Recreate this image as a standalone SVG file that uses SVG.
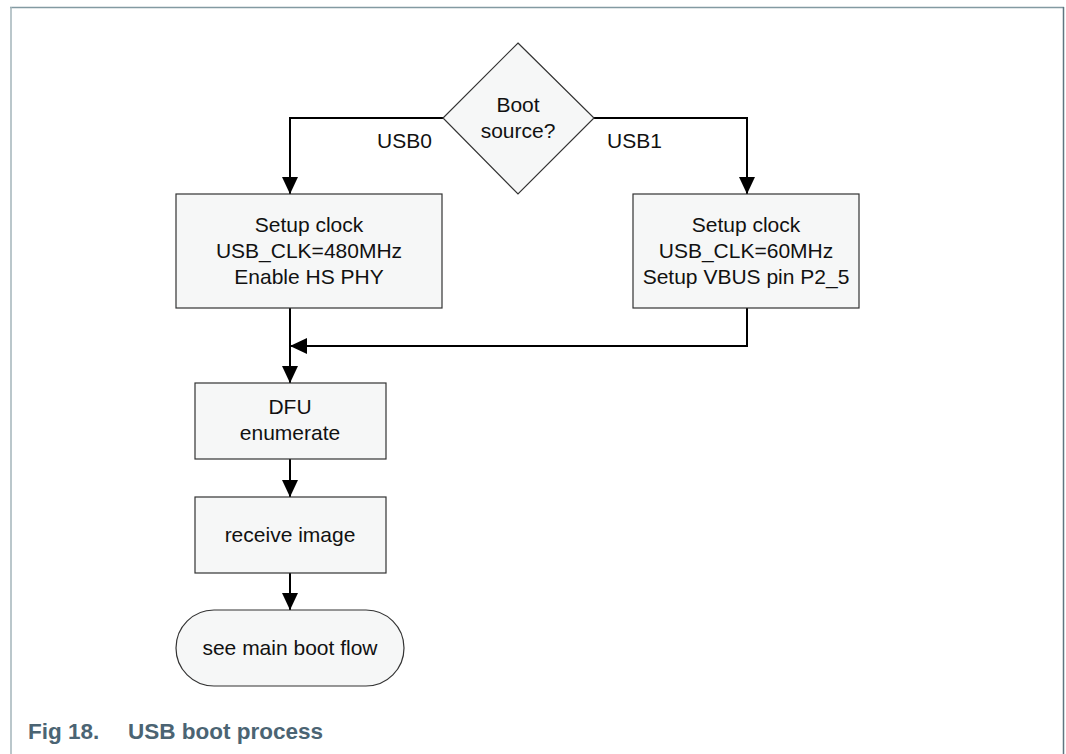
<svg xmlns="http://www.w3.org/2000/svg" width="1066" height="754" viewBox="0 0 1066 754">
<defs>
<marker id="ah" viewBox="0 0 17 16" refX="17" refY="8" markerWidth="17" markerHeight="16" markerUnits="userSpaceOnUse" orient="auto">
<path d="M0,0 L17,8 L0,16 Z" fill="#000"/>
</marker>
<style>
.shape{fill:#f6f7f7;stroke:#333;stroke-width:1.2}
.t{font-family:"Liberation Sans",Arial,sans-serif;font-size:21px;fill:#111;text-anchor:middle}
.lbl{font-family:"Liberation Sans",Arial,sans-serif;font-size:21px;fill:#111}
.c{fill:none;stroke:#000;stroke-width:2;marker-end:url(#ah)}
.cap{font-family:"Liberation Sans",Arial,sans-serif;font-size:22.5px;font-weight:bold;fill:#4b6473}
</style>
</defs>
<rect width="1066" height="754" fill="#fff"/>
<g id="frame">
<line x1="10" y1="7.5" x2="1064" y2="7.5" stroke="#839aa2" stroke-width="1.5"/>
<line x1="11" y1="7" x2="11" y2="754" stroke="#a3b4ba" stroke-width="1.5"/>
<line x1="1063.5" y1="7" x2="1063.5" y2="754" stroke="#5f7680" stroke-width="1.5"/>
</g>
<g id="connectors">
<path class="c" d="M443,118 H290 V194"/>
<path class="c" d="M594,118 H747 V194"/>
<path class="c" d="M747,308 V346 H290"/>
<path class="c" d="M290,308 V383"/>
<path class="c" d="M290,459 V497"/>
<path class="c" d="M290,573 V610"/>
</g>
<g id="decision">
<polygon class="shape" points="518,43 594,118 518,194 443,118"/>
<text class="t" x="518" y="112">Boot</text>
<text class="t" x="518" y="138">source?</text>
</g>
<g id="labels">
<text class="lbl" x="377" y="148">USB0</text>
<text class="lbl" x="607" y="148">USB1</text>
</g>
<g id="usb0setup">
<rect class="shape" x="176" y="194" width="266" height="114"/>
<text class="t" x="309" y="232">Setup clock</text>
<text class="t" x="309" y="258">USB_CLK=480MHz</text>
<text class="t" x="309" y="284">Enable HS PHY</text>
</g>
<g id="usb1setup">
<rect class="shape" x="633" y="194" width="226" height="114"/>
<text class="t" x="746" y="232">Setup clock</text>
<text class="t" x="746" y="258">USB_CLK=60MHz</text>
<text class="t" x="746" y="284">Setup VBUS pin P2_5</text>
</g>
<g id="dfu">
<rect class="shape" x="195" y="383" width="191" height="76"/>
<text class="t" x="290" y="414">DFU</text>
<text class="t" x="290" y="440">enumerate</text>
</g>
<g id="receive">
<rect class="shape" x="195" y="497" width="191" height="76"/>
<text class="t" x="290" y="542">receive image</text>
</g>
<g id="end">
<rect class="shape" x="176" y="610" width="228" height="76" rx="38" ry="38"/>
<text class="t" x="290" y="655">see main boot flow</text>
</g>
<g id="caption">
<text class="cap" x="28" y="739">Fig 18.</text>
<text class="cap" x="128" y="739">USB boot process</text>
</g>
</svg>
